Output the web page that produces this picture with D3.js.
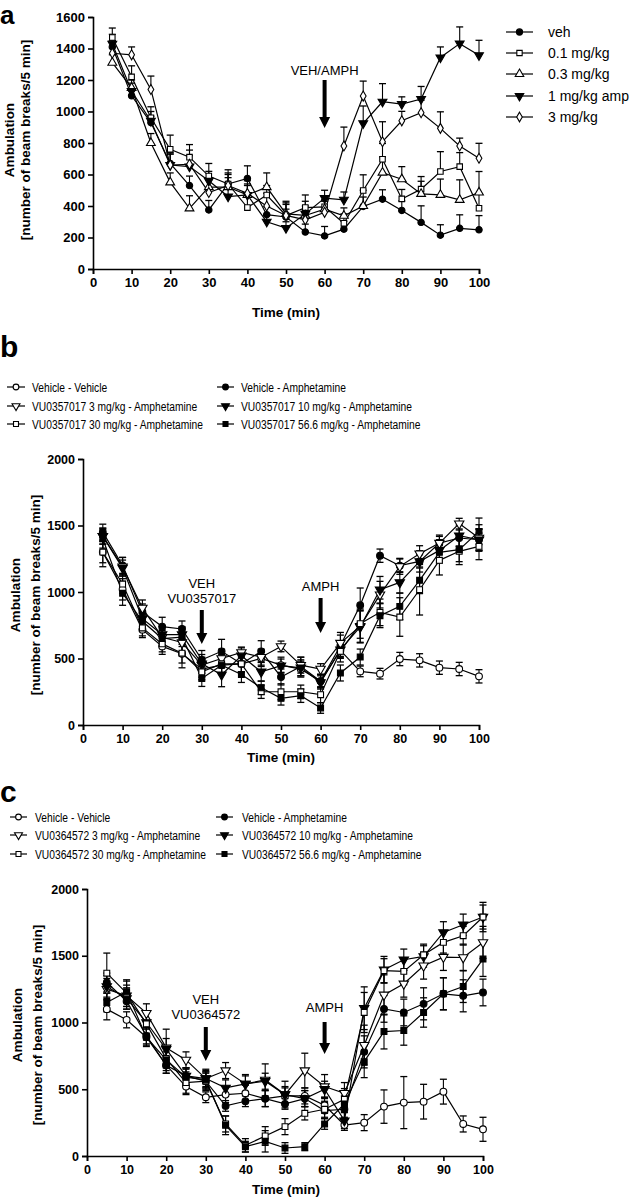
<!DOCTYPE html>
<html><head><meta charset="utf-8">
<script src="https://cdn.jsdelivr.net/npm/d3@7"></script>
<style>body{margin:0;background:#fff}svg{display:block}</style>
</head><body>
<script>
// ---------- DATA ----------
const times = [5,10,15,20,25,30,35,40,45,50,55,60,65,70,75,80,85,90,95,100];
const xTicks = [0,10,20,30,40,50,60,70,80,90,100];
const yTicksA = [0,200,400,600,800,1000,1200,1400,1600];
const yTicksBC = [0,500,1000,1500,2000];

// Panel a
const aLabels = ["veh","0.1 mg/kg","0.3 mg/kg","1 mg/kg amp","3 mg/kg"];
const aVeh    = [1410,1100,930,670,530,375,540,575,345,330,235,210,253,397,443,372,296,215,258,249];
const aVehErr = [40,30,40,60,60,60,60,80,50,50,50,60,50,60,60,60,105,66,86,90];
const a01     = [1470,1220,960,760,710,590,540,390,470,340,390,395,290,498,697,445,507,619,650,386];
const a01Err  = [60,70,70,90,80,80,90,70,60,90,80,60,60,100,100,60,80,126,89,90];
const a03     = [1310,1150,800,550,385,520,520,470,520,350,340,380,338,400,612,570,477,471,439,486];
const a03Err  = [50,50,60,60,80,60,60,70,90,60,60,60,50,100,100,80,80,100,127,133];
const a1      = [1430,1130,940,660,650,560,460,470,300,260,350,450,439,925,1062,1047,1079,1343,1431,1357];
const a1Err   = [60,50,60,70,70,60,60,60,40,40,80,50,50,110,115,46,80,67,106,95];
const a3      = [1370,1360,1140,660,665,486,530,480,400,340,312,360,781,1098,808,941,992,893,781,703];
const a3Err   = [80,50,85,80,90,80,80,80,80,80,60,70,120,95,127,60,80,105,50,95];

// Panel b
const bLabels = ["Vehicle - Vehicle","Vehicle - Amphetamine","VU0357017 3 mg/kg - Amphetamine","VU0357017 10 mg/kg - Amphetamine","VU0357017 30 mg/kg - Amphetamine","VU0357017 56.6 mg/kg - Amphetamine"];
const bVV   = [1300,1020,717,591,536,420,450,460,500,450,420,330,561,403,386,496,486,431,421,366];
const bVVe  = [110,80,60,60,70,60,60,60,60,60,60,50,60,40,40,50,50,50,50,50];
const bVA   = [1450,1200,850,740,722,490,554,460,554,361,440,330,596,900,1273,1198,1230,1368,1406,1393];
const bVAe  = [60,60,60,70,60,70,90,60,80,60,70,50,80,130,50,50,50,50,60,80];
const b3    = [1420,1190,880,660,620,450,500,546,510,591,450,421,616,742,980,1193,1288,1368,1514,1406];
const b3e   = [60,70,60,60,70,60,70,40,60,40,60,40,80,120,100,60,60,60,40,100];
const b10   = [1420,1180,800,680,680,460,378,520,400,446,430,320,566,737,1017,1072,1230,1313,1423,1393];
const b10e  = [60,60,60,60,60,70,90,60,70,50,60,50,60,120,100,80,80,80,80,80];
const b30   = [1300,1060,730,610,540,400,460,460,250,250,250,228,554,762,847,812,1017,1238,1306,1343];
const b30e  = [80,70,60,60,110,60,70,60,50,60,50,60,80,110,100,145,190,110,100,100];
const b56   = [1400,990,780,650,660,350,450,380,280,200,220,128,391,511,822,892,1088,1298,1318,1456];
const b56e  = [70,90,60,60,70,60,70,60,50,50,50,40,60,60,90,100,100,80,90,100];

// Panel c
const cLabels = ["Vehicle - Vehicle","Vehicle - Amphetamine","VU0364572 3 mg/kg - Amphetamine","VU0364572 10 mg/kg - Amphetamine","VU0364572 30 mg/kg - Amphetamine","VU0364572 56.6 mg/kg - Amphetamine"];
const cVV   = [1100,1020,890,680,520,440,460,470,430,450,450,380,232,250,370,400,407,482,240,200];
const cVVe  = [80,60,60,60,60,40,60,60,60,60,60,60,40,60,125,195,130,93,60,90];
const cVA   = [1300,1160,900,680,600,560,375,410,430,390,430,340,350,780,1102,1075,1140,1215,1200,1225];
const cVAe  = [70,60,60,60,60,60,40,40,60,40,60,60,60,120,100,100,120,120,120,100];
const c3    = [1250,1200,1070,810,720,580,640,540,570,460,640,520,470,830,1207,1290,1425,1490,1487,1600];
const c3e   = [80,80,70,140,60,70,60,70,120,100,130,90,80,150,150,100,100,100,100,120];
const c10   = [1270,1180,1000,800,600,580,510,540,560,460,430,500,265,1107,1395,1470,1495,1675,1732,1790];
const c10e  = [80,80,80,80,60,60,60,60,60,60,60,60,60,160,100,80,80,80,80,110];
const c30   = [1370,1220,990,730,550,560,240,80,150,220,320,350,425,1075,1388,1383,1507,1600,1650,1790];
const c30e  = [150,100,90,90,80,70,60,50,70,60,50,60,80,150,90,100,80,80,70,90];
const c56   = [1150,1230,890,720,590,570,230,70,110,60,70,240,390,707,932,940,1075,1215,1270,1475];
const c56e  = [70,80,70,60,60,60,70,40,80,40,30,40,60,120,130,110,110,120,120,130];

// ---------- DRAWING ----------
const W = 630, H = 1199;
const svg = d3.select("body").append("svg").attr("width", W).attr("height", H);
const FONT = "'Liberation Sans', Arial, Helvetica, sans-serif";

function marker(g, shape, filled, cx, cy, size) {
  const s = size || 42;
  let type = d3.symbolCircle, rot = 0, area = s;
  if (shape === "square") { type = d3.symbolSquare; area = s * 0.95; }
  if (shape === "triUp") { type = d3.symbolTriangle; area = s * 1.05; }
  if (shape === "triDown") { type = d3.symbolTriangle; rot = 180; area = s * 1.05; }
  if (shape === "diamond") { type = d3.symbolDiamond; area = s * 0.9; }
  g.append("path")
    .attr("d", d3.symbol().type(type).size(area)())
    .attr("transform", `translate(${cx},${cy}) rotate(${rot})`)
    .attr("fill", filled ? "#000" : "#fff")
    .attr("stroke", "#000").attr("stroke-width", 1.1);
}

function arrow(g, x, y1, y2) {
  const hw = 5.5, hh = 11, sw = 2;
  g.append("path")
    .attr("d", `M${x - sw},${y1} L${x + sw},${y1} L${x + sw},${y2 - hh} L${x + hw},${y2 - hh} L${x},${y2} L${x - hw},${y2 - hh} L${x - sw},${y2 - hh} Z`)
    .attr("fill", "#000");
}

function drawPanel(p) {
  const g = svg.append("g");
  const x = d3.scaleLinear().domain([0, 100]).range(p.xr);
  const y = d3.scaleLinear().domain([0, p.ymax]).range(p.yr);

  const xa = g.append("g").attr("transform", `translate(0,${p.yr[0]})`)
    .call(d3.axisBottom(x).tickValues(xTicks).tickFormat(d3.format("d")).tickSize(5).tickPadding(4));
  const ya = g.append("g").attr("transform", `translate(${p.xr[0]},0)`)
    .call(d3.axisLeft(y).tickValues(p.yTicks).tickFormat(d3.format("d")).tickSize(5).tickPadding(3));
  [xa, ya].forEach(a => {
    a.select(".domain").attr("stroke", "#000").attr("stroke-width", 1.6);
    a.selectAll(".tick line").attr("stroke", "#000").attr("stroke-width", 1.6);
    a.selectAll("text").attr("font-family", FONT).attr("font-weight", "bold")
      .attr("font-size", p.tickFs).attr("fill", "#000");
  });

  // axis titles
  g.append("text").attr("x", p.xTitle[0]).attr("y", p.xTitle[1])
    .attr("text-anchor", "middle").attr("font-family", FONT).attr("font-weight", "bold")
    .attr("font-size", p.titleFs).text("Time (min)");
  const yt = g.append("text").attr("transform", `translate(${p.yTitle[0]},${p.yTitle[2]}) rotate(-90)`)
    .attr("text-anchor", "middle").attr("font-family", FONT).attr("font-weight", "bold")
    .attr("font-size", p.titleFs);
  yt.append("tspan").attr("x", 0).attr("y", 0).text("Ambulation");
  yt.append("tspan").attr("x", 0).attr("y", p.yTitle[1] - p.yTitle[0]).text("[number of beam breaks/5 min]");

  // series lines
  const line = d3.line().x((d, i) => x(times[i])).y(d => y(d));
  p.series.forEach(s => {
    g.append("path").attr("d", line(s.v)).attr("fill", "none")
      .attr("stroke", "#000").attr("stroke-width", 1.2);
  });
  // error bars
  p.series.forEach(s => {
    s.v.forEach((v, i) => {
      const cx = x(times[i]);
      const top = y(v + s.e[i]);
      const bot = p.twoSided ? y(Math.max(0, v - s.e[i])) : y(v);
      g.append("line").attr("x1", cx).attr("x2", cx).attr("y1", top).attr("y2", bot)
        .attr("stroke", "#000").attr("stroke-width", 1.1);
      g.append("line").attr("x1", cx - 3.5).attr("x2", cx + 3.5).attr("y1", top).attr("y2", top)
        .attr("stroke", "#000").attr("stroke-width", 1.3);
      if (p.twoSided) g.append("line").attr("x1", cx - 3.5).attr("x2", cx + 3.5).attr("y1", bot).attr("y2", bot)
        .attr("stroke", "#000").attr("stroke-width", 1.3);
    });
  });
  // markers
  p.series.forEach(s => {
    s.v.forEach((v, i) => marker(g, s.shape, s.filled, x(times[i]), y(v), p.msize));
  });

  // annotations
  p.notes.forEach(n => {
    n.lines.forEach((t, k) => {
      g.append("text").attr("x", x(n.t)).attr("y", n.ty + k * 15)
        .attr("text-anchor", "middle").attr("font-family", FONT).attr("font-size", 13).text(t);
    });
    arrow(g, x(n.t), n.a1, n.a2);
  });

  // panel letter
  g.append("text").attr("x", 0).attr("y", p.letterY).attr("font-family", FONT)
    .attr("font-weight", "bold").attr("font-size", p.letterFs).text(p.letter);

  // legend
  p.legend.forEach((L, k) => {
    const s = p.series[k];
    g.append("line").attr("x1", L.x1).attr("x2", L.x2).attr("y1", L.y).attr("y2", L.y)
      .attr("stroke", "#000").attr("stroke-width", 1.2);
    marker(g, s.shape, s.filled, (L.x1 + L.x2) / 2, L.y, p.legMsize);
    const t = g.append("text").attr("x", L.tx).attr("y", L.y + 4.5).attr("font-family", FONT)
      .attr("font-size", p.legFs).text(s.label);
    if (p.narrow) {
      const len = t.node().getComputedTextLength();
      t.attr("textLength", len * p.narrow).attr("lengthAdjust", "spacingAndGlyphs");
    }
  });
}

// Panel a
drawPanel({
  letter: "a", letterY: 24, letterFs: 26,
  xr: [93, 479], yr: [269, 17], ymax: 1600, yTicks: yTicksA,
  tickFs: 13, titleFs: 13.5, xTitle: [286, 317], yTitle: [14, 30, 140],
  twoSided: false, msize: 32, legMsize: 30,
  series: [
    {label: aLabels[0], v: aVeh, e: aVehErr, shape: "circle", filled: true},
    {label: aLabels[1], v: a01, e: a01Err, shape: "square", filled: false},
    {label: aLabels[2], v: a03, e: a03Err, shape: "triUp", filled: false},
    {label: aLabels[3], v: a1, e: a1Err, shape: "triDown", filled: true},
    {label: aLabels[4], v: a3, e: a3Err, shape: "diamond", filled: false}
  ],
  notes: [{t: 60, lines: ["VEH/AMPH"], ty: 75, a1: 80, a2: 128}],
  legFs: 14, narrow: 0,
  legend: [
    {x1: 506, x2: 533, y: 32, tx: 548},
    {x1: 506, x2: 533, y: 53, tx: 548},
    {x1: 506, x2: 533, y: 74, tx: 548},
    {x1: 506, x2: 533, y: 96, tx: 548},
    {x1: 506, x2: 533, y: 117, tx: 548}
  ]
});

// Panel b
drawPanel({
  letter: "b", letterY: 357, letterFs: 30,
  xr: [83, 479], yr: [725, 459], ymax: 2000, yTicks: yTicksBC,
  tickFs: 12.5, titleFs: 13.5, xTitle: [281, 762], yTitle: [20, 40, 595],
  twoSided: true, msize: 36, legMsize: 26,
  series: [
    {label: bLabels[0], v: bVV, e: bVVe, shape: "circle", filled: false},
    {label: bLabels[1], v: bVA, e: bVAe, shape: "circle", filled: true},
    {label: bLabels[2], v: b3, e: b3e, shape: "triDown", filled: false},
    {label: bLabels[3], v: b10, e: b10e, shape: "triDown", filled: true},
    {label: bLabels[4], v: b30, e: b30e, shape: "square", filled: false},
    {label: bLabels[5], v: b56, e: b56e, shape: "square", filled: true}
  ],
  notes: [
    {t: 30, lines: ["VEH", "VU0357017"], ty: 588, a1: 610, a2: 644},
    {t: 60, lines: ["AMPH"], ty: 591, a1: 598, a2: 633}
  ],
  legFs: 12.5, narrow: 0.82,
  legend: [
    {x1: 7, x2: 25, y: 387, tx: 32},
    {x1: 217, x2: 234, y: 387, tx: 241},
    {x1: 7, x2: 25, y: 406, tx: 32},
    {x1: 217, x2: 234, y: 406, tx: 241},
    {x1: 7, x2: 25, y: 424, tx: 32},
    {x1: 217, x2: 234, y: 424, tx: 241}
  ]
});

// Panel c
drawPanel({
  letter: "c", letterY: 802, letterFs: 30,
  xr: [87, 483], yr: [1156, 889], ymax: 2000, yTicks: yTicksBC,
  tickFs: 12.5, titleFs: 13.5, xTitle: [286, 1194], yTitle: [22, 42, 1025],
  twoSided: true, msize: 36, legMsize: 26,
  series: [
    {label: cLabels[0], v: cVV, e: cVVe, shape: "circle", filled: false},
    {label: cLabels[1], v: cVA, e: cVAe, shape: "circle", filled: true},
    {label: cLabels[2], v: c3, e: c3e, shape: "triDown", filled: false},
    {label: cLabels[3], v: c10, e: c10e, shape: "triDown", filled: true},
    {label: cLabels[4], v: c30, e: c30e, shape: "square", filled: false},
    {label: cLabels[5], v: c56, e: c56e, shape: "square", filled: true}
  ],
  notes: [
    {t: 30, lines: ["VEH", "VU0364572"], ty: 1004, a1: 1027, a2: 1061},
    {t: 60, lines: ["AMPH"], ty: 1012, a1: 1022, a2: 1054}
  ],
  legFs: 12.5, narrow: 0.82,
  legend: [
    {x1: 10, x2: 27, y: 817, tx: 35},
    {x1: 216, x2: 233, y: 817, tx: 242},
    {x1: 10, x2: 27, y: 835, tx: 35},
    {x1: 216, x2: 233, y: 835, tx: 242},
    {x1: 10, x2: 27, y: 854, tx: 35},
    {x1: 216, x2: 233, y: 854, tx: 242}
  ]
});
</script>
</body></html>
